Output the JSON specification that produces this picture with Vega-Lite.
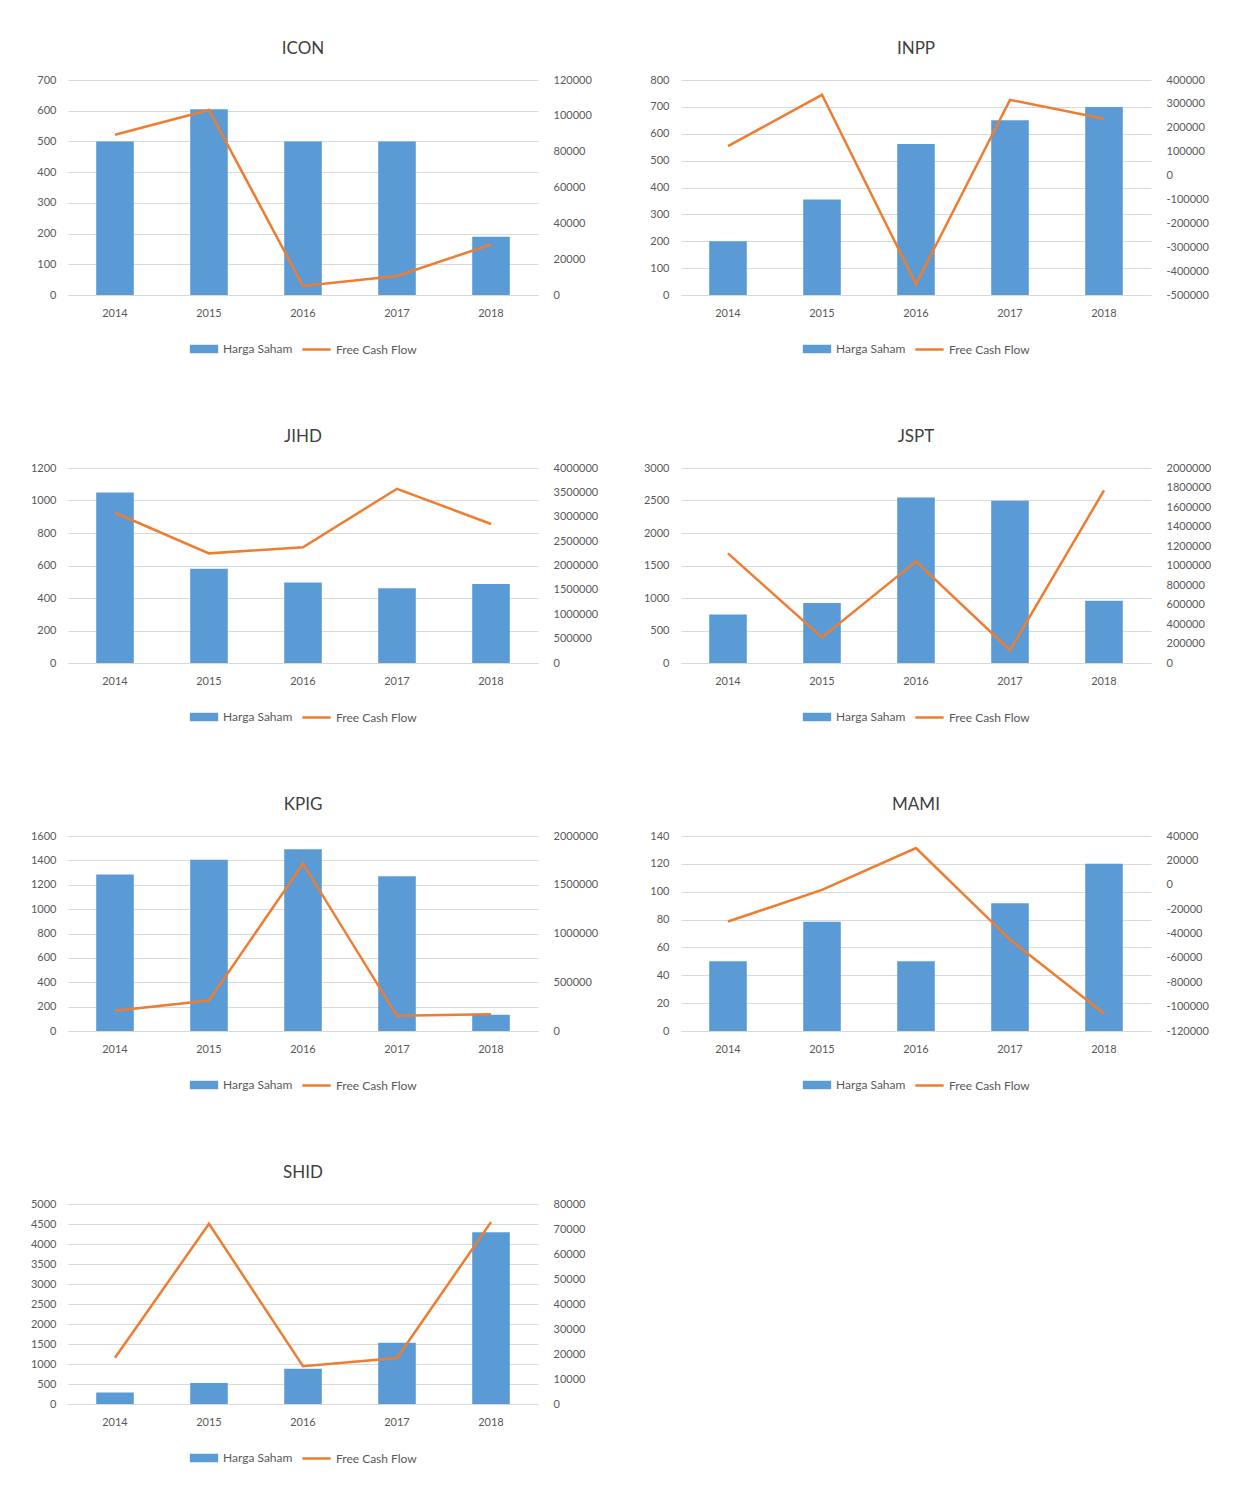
{
  "$schema": "https://vega.github.io/schema/vega-lite/v6.json",
  "background": "white",
  "padding": {"left": 30, "top": 40, "right": 5, "bottom": 5},
  "datasets": {
    "d": [
      {"c": "ICON", "year": "2014", "harga": 500, "fcf": 89400},
      {"c": "ICON", "year": "2015", "harga": 605, "fcf": 103300},
      {"c": "ICON", "year": "2016", "harga": 500, "fcf": 5000},
      {"c": "ICON", "year": "2017", "harga": 500, "fcf": 10600},
      {"c": "ICON", "year": "2018", "harga": 190, "fcf": 28200},
      {"c": "INPP", "year": "2014", "harga": 200, "fcf": 123000},
      {"c": "INPP", "year": "2015", "harga": 355, "fcf": 338000},
      {"c": "INPP", "year": "2016", "harga": 562, "fcf": -455000},
      {"c": "INPP", "year": "2017", "harga": 650, "fcf": 317000},
      {"c": "INPP", "year": "2018", "harga": 700, "fcf": 238000},
      {"c": "JIHD", "year": "2014", "harga": 1050, "fcf": 3082000},
      {"c": "JIHD", "year": "2015", "harga": 580, "fcf": 2249000},
      {"c": "JIHD", "year": "2016", "harga": 496, "fcf": 2374000},
      {"c": "JIHD", "year": "2017", "harga": 460, "fcf": 3574000},
      {"c": "JIHD", "year": "2018", "harga": 486, "fcf": 2852000},
      {"c": "JSPT", "year": "2014", "harga": 748, "fcf": 1124000},
      {"c": "JSPT", "year": "2015", "harga": 925, "fcf": 262000},
      {"c": "JSPT", "year": "2016", "harga": 2548, "fcf": 1043000},
      {"c": "JSPT", "year": "2017", "harga": 2498, "fcf": 131000},
      {"c": "JSPT", "year": "2018", "harga": 959, "fcf": 1770000},
      {"c": "KPIG", "year": "2014", "harga": 1284, "fcf": 208000},
      {"c": "KPIG", "year": "2015", "harga": 1406, "fcf": 312000},
      {"c": "KPIG", "year": "2016", "harga": 1492, "fcf": 1716000},
      {"c": "KPIG", "year": "2017", "harga": 1270, "fcf": 156000},
      {"c": "KPIG", "year": "2018", "harga": 133, "fcf": 173000},
      {"c": "MAMI", "year": "2014", "harga": 50, "fcf": -30200},
      {"c": "MAMI", "year": "2015", "harga": 78.5, "fcf": -4200},
      {"c": "MAMI", "year": "2016", "harga": 50, "fcf": 30100},
      {"c": "MAMI", "year": "2017", "harga": 91.7, "fcf": -45000},
      {"c": "MAMI", "year": "2018", "harga": 120, "fcf": -105700},
      {"c": "SHID", "year": "2014", "harga": 290, "fcf": 18500},
      {"c": "SHID", "year": "2015", "harga": 528, "fcf": 72100},
      {"c": "SHID", "year": "2016", "harga": 880, "fcf": 15100},
      {"c": "SHID", "year": "2017", "harga": 1533, "fcf": 18400},
      {"c": "SHID", "year": "2018", "harga": 4296, "fcf": 72760}
    ]
  },
  "config": {
    "font": "Lato",
    "view": {"stroke": null},
    "title": {"fontSize": 17, "fontWeight": "normal", "color": "#404040", "offset": 16},
    "axis": {"labelFont": "Lato", "labelColor": "#595959", "labelFontSize": 11, "title": null, "ticks": false, "domain": false, "format": "d", "labelExpr": "replace(datum.label, '\u2212', '-')"},
    "legend": {"orient": "bottom", "direction": "horizontal", "labelFont": "Lato", "labelFontSize": 12, "labelColor": "#595959", "title": null, "offset": 16, "layout": {"bottom": {"anchor": "middle"}}}
  },
  "columns": 2,
  "spacing": {"row": 72, "column": 45},
  "resolve": {"scale": {"fill": "independent", "stroke": "independent"}, "legend": {"fill": "independent", "stroke": "independent"}},
  "concat": [
    {
      "title": "ICON", "width": 470, "height": 215,
      "data": {"name": "d"}, "transform": [{"filter": "datum.c === 'ICON'"}],
      "encoding": {"x": {"field": "year", "type": "ordinal", "scale": {"paddingInner": 0.6, "paddingOuter": 0.3}, "axis": {"labelAngle": 0, "domain": true, "domainColor": "#D9D9D9", "labelPadding": 12}}},
      "layer": [
        {"mark": {"type": "bar", "fill": "#5B9BD5"}, "encoding": {"y": {"field": "harga", "type": "quantitative", "scale": {"domain": [0, 700]}, "axis": {"values": [0,100,200,300,400,500,600,700], "grid": true, "gridColor": "#D9D9D9", "labelPadding": 12}}, "fill": {"datum": "Harga Saham", "scale": {"range": ["#5B9BD5"]}, "legend": {"symbolType": "M-1,-0.3H1V0.3H-1Z", "symbolSize": 800}}}},
        {"mark": {"type": "line", "stroke": "#ED7D31", "strokeWidth": 2.5}, "encoding": {"y": {"field": "fcf", "type": "quantitative", "scale": {"domain": [0, 120000]}, "axis": {"orient": "right", "values": [0,20000,40000,60000,80000,100000,120000], "grid": false, "labelPadding": 15}}, "stroke": {"datum": "Free Cash Flow", "scale": {"range": ["#ED7D31"]}, "legend": {"symbolType": "stroke", "symbolStrokeWidth": 2.5, "symbolSize": 800}}}}
      ],
      "resolve": {"scale": {"y": "independent"}}
    },
    {
      "title": "INPP", "width": 470, "height": 215,
      "data": {"name": "d"}, "transform": [{"filter": "datum.c === 'INPP'"}],
      "encoding": {"x": {"field": "year", "type": "ordinal", "scale": {"paddingInner": 0.6, "paddingOuter": 0.3}, "axis": {"labelAngle": 0, "domain": true, "domainColor": "#D9D9D9", "labelPadding": 12}}},
      "layer": [
        {"mark": {"type": "bar", "fill": "#5B9BD5"}, "encoding": {"y": {"field": "harga", "type": "quantitative", "scale": {"domain": [0, 800]}, "axis": {"values": [0,100,200,300,400,500,600,700,800], "grid": true, "gridColor": "#D9D9D9", "labelPadding": 12}}, "fill": {"datum": "Harga Saham", "scale": {"range": ["#5B9BD5"]}, "legend": {"symbolType": "M-1,-0.3H1V0.3H-1Z", "symbolSize": 800}}}},
        {"mark": {"type": "line", "stroke": "#ED7D31", "strokeWidth": 2.5}, "encoding": {"y": {"field": "fcf", "type": "quantitative", "scale": {"domain": [-500000, 400000]}, "axis": {"orient": "right", "values": [-500000,-400000,-300000,-200000,-100000,0,100000,200000,300000,400000], "grid": false, "labelPadding": 15}}, "stroke": {"datum": "Free Cash Flow", "scale": {"range": ["#ED7D31"]}, "legend": {"symbolType": "stroke", "symbolStrokeWidth": 2.5, "symbolSize": 800}}}}
      ],
      "resolve": {"scale": {"y": "independent"}}
    },
    {
      "title": "JIHD", "width": 470, "height": 195,
      "data": {"name": "d"}, "transform": [{"filter": "datum.c === 'JIHD'"}],
      "encoding": {"x": {"field": "year", "type": "ordinal", "scale": {"paddingInner": 0.6, "paddingOuter": 0.3}, "axis": {"labelAngle": 0, "domain": true, "domainColor": "#D9D9D9", "labelPadding": 12}}},
      "layer": [
        {"mark": {"type": "bar", "fill": "#5B9BD5"}, "encoding": {"y": {"field": "harga", "type": "quantitative", "scale": {"domain": [0, 1200]}, "axis": {"values": [0,200,400,600,800,1000,1200], "grid": true, "gridColor": "#D9D9D9", "labelPadding": 12}}, "fill": {"datum": "Harga Saham", "scale": {"range": ["#5B9BD5"]}, "legend": {"symbolType": "M-1,-0.3H1V0.3H-1Z", "symbolSize": 800}}}},
        {"mark": {"type": "line", "stroke": "#ED7D31", "strokeWidth": 2.5}, "encoding": {"y": {"field": "fcf", "type": "quantitative", "scale": {"domain": [0, 4000000]}, "axis": {"orient": "right", "values": [0,500000,1000000,1500000,2000000,2500000,3000000,3500000,4000000], "grid": false, "labelPadding": 15}}, "stroke": {"datum": "Free Cash Flow", "scale": {"range": ["#ED7D31"]}, "legend": {"symbolType": "stroke", "symbolStrokeWidth": 2.5, "symbolSize": 800}}}}
      ],
      "resolve": {"scale": {"y": "independent"}}
    },
    {
      "title": "JSPT", "width": 470, "height": 195,
      "data": {"name": "d"}, "transform": [{"filter": "datum.c === 'JSPT'"}],
      "encoding": {"x": {"field": "year", "type": "ordinal", "scale": {"paddingInner": 0.6, "paddingOuter": 0.3}, "axis": {"labelAngle": 0, "domain": true, "domainColor": "#D9D9D9", "labelPadding": 12}}},
      "layer": [
        {"mark": {"type": "bar", "fill": "#5B9BD5"}, "encoding": {"y": {"field": "harga", "type": "quantitative", "scale": {"domain": [0, 3000]}, "axis": {"values": [0,500,1000,1500,2000,2500,3000], "grid": true, "gridColor": "#D9D9D9", "labelPadding": 12}}, "fill": {"datum": "Harga Saham", "scale": {"range": ["#5B9BD5"]}, "legend": {"symbolType": "M-1,-0.3H1V0.3H-1Z", "symbolSize": 800}}}},
        {"mark": {"type": "line", "stroke": "#ED7D31", "strokeWidth": 2.5}, "encoding": {"y": {"field": "fcf", "type": "quantitative", "scale": {"domain": [0, 2000000]}, "axis": {"orient": "right", "values": [0,200000,400000,600000,800000,1000000,1200000,1400000,1600000,1800000,2000000], "grid": false, "labelPadding": 15}}, "stroke": {"datum": "Free Cash Flow", "scale": {"range": ["#ED7D31"]}, "legend": {"symbolType": "stroke", "symbolStrokeWidth": 2.5, "symbolSize": 800}}}}
      ],
      "resolve": {"scale": {"y": "independent"}}
    },
    {
      "title": "KPIG", "width": 470, "height": 195,
      "data": {"name": "d"}, "transform": [{"filter": "datum.c === 'KPIG'"}],
      "encoding": {"x": {"field": "year", "type": "ordinal", "scale": {"paddingInner": 0.6, "paddingOuter": 0.3}, "axis": {"labelAngle": 0, "domain": true, "domainColor": "#D9D9D9", "labelPadding": 12}}},
      "layer": [
        {"mark": {"type": "bar", "fill": "#5B9BD5"}, "encoding": {"y": {"field": "harga", "type": "quantitative", "scale": {"domain": [0, 1600]}, "axis": {"values": [0,200,400,600,800,1000,1200,1400,1600], "grid": true, "gridColor": "#D9D9D9", "labelPadding": 12}}, "fill": {"datum": "Harga Saham", "scale": {"range": ["#5B9BD5"]}, "legend": {"symbolType": "M-1,-0.3H1V0.3H-1Z", "symbolSize": 800}}}},
        {"mark": {"type": "line", "stroke": "#ED7D31", "strokeWidth": 2.5}, "encoding": {"y": {"field": "fcf", "type": "quantitative", "scale": {"domain": [0, 2000000]}, "axis": {"orient": "right", "values": [0,500000,1000000,1500000,2000000], "grid": false, "labelPadding": 15}}, "stroke": {"datum": "Free Cash Flow", "scale": {"range": ["#ED7D31"]}, "legend": {"symbolType": "stroke", "symbolStrokeWidth": 2.5, "symbolSize": 800}}}}
      ],
      "resolve": {"scale": {"y": "independent"}}
    },
    {
      "title": "MAMI", "width": 470, "height": 195,
      "data": {"name": "d"}, "transform": [{"filter": "datum.c === 'MAMI'"}],
      "encoding": {"x": {"field": "year", "type": "ordinal", "scale": {"paddingInner": 0.6, "paddingOuter": 0.3}, "axis": {"labelAngle": 0, "domain": true, "domainColor": "#D9D9D9", "labelPadding": 12}}},
      "layer": [
        {"mark": {"type": "bar", "fill": "#5B9BD5"}, "encoding": {"y": {"field": "harga", "type": "quantitative", "scale": {"domain": [0, 140]}, "axis": {"values": [0,20,40,60,80,100,120,140], "grid": true, "gridColor": "#D9D9D9", "labelPadding": 12}}, "fill": {"datum": "Harga Saham", "scale": {"range": ["#5B9BD5"]}, "legend": {"symbolType": "M-1,-0.3H1V0.3H-1Z", "symbolSize": 800}}}},
        {"mark": {"type": "line", "stroke": "#ED7D31", "strokeWidth": 2.5}, "encoding": {"y": {"field": "fcf", "type": "quantitative", "scale": {"domain": [-120000, 40000]}, "axis": {"orient": "right", "values": [-120000,-100000,-80000,-60000,-40000,-20000,0,20000,40000], "grid": false, "labelPadding": 15}}, "stroke": {"datum": "Free Cash Flow", "scale": {"range": ["#ED7D31"]}, "legend": {"symbolType": "stroke", "symbolStrokeWidth": 2.5, "symbolSize": 800}}}}
      ],
      "resolve": {"scale": {"y": "independent"}}
    },
    {
      "title": "SHID", "width": 470, "height": 200,
      "data": {"name": "d"}, "transform": [{"filter": "datum.c === 'SHID'"}],
      "encoding": {"x": {"field": "year", "type": "ordinal", "scale": {"paddingInner": 0.6, "paddingOuter": 0.3}, "axis": {"labelAngle": 0, "domain": true, "domainColor": "#D9D9D9", "labelPadding": 12}}},
      "layer": [
        {"mark": {"type": "bar", "fill": "#5B9BD5"}, "encoding": {"y": {"field": "harga", "type": "quantitative", "scale": {"domain": [0, 5000]}, "axis": {"values": [0,500,1000,1500,2000,2500,3000,3500,4000,4500,5000], "grid": true, "gridColor": "#D9D9D9", "labelPadding": 12}}, "fill": {"datum": "Harga Saham", "scale": {"range": ["#5B9BD5"]}, "legend": {"symbolType": "M-1,-0.3H1V0.3H-1Z", "symbolSize": 800}}}},
        {"mark": {"type": "line", "stroke": "#ED7D31", "strokeWidth": 2.5}, "encoding": {"y": {"field": "fcf", "type": "quantitative", "scale": {"domain": [0, 80000]}, "axis": {"orient": "right", "values": [0,10000,20000,30000,40000,50000,60000,70000,80000], "grid": false, "labelPadding": 15}}, "stroke": {"datum": "Free Cash Flow", "scale": {"range": ["#ED7D31"]}, "legend": {"symbolType": "stroke", "symbolStrokeWidth": 2.5, "symbolSize": 800}}}}
      ],
      "resolve": {"scale": {"y": "independent"}}
    }
  ]
}
